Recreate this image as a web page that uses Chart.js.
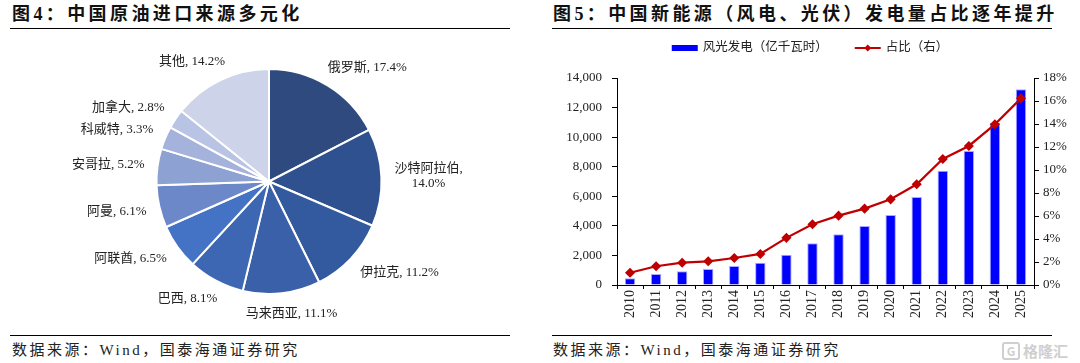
<!DOCTYPE html>
<html>
<head>
<meta charset="utf-8">
<script src="https://cdn.jsdelivr.net/npm/chart.js@4.4.1/dist/chart.umd.min.js"></script>
<style>
  html,body{margin:0;padding:0;background:#fff;}
  body{width:1080px;height:363px;position:relative;overflow:hidden;}
  .title{position:absolute;top:4px;font-family:"Liberation Serif","Noto Sans CJK SC";font-weight:700;font-size:18px;line-height:20px;letter-spacing:3.4px;color:#111;white-space:nowrap;}
  .rule{position:absolute;height:1.4px;background:#000;}
  .src{position:absolute;top:340px;font-family:"Liberation Serif","Noto Sans CJK SC";font-size:15px;line-height:20px;letter-spacing:2.5px;color:#222;white-space:nowrap;}
  .wm{position:absolute;left:1002px;top:342px;font-family:"Noto Sans CJK SC";font-weight:700;font-size:15px;line-height:18px;color:#cfcfcf;white-space:nowrap;}
  .wm span{display:inline-block;border:2px solid #cfcfcf;border-radius:3px;width:14px;height:14px;line-height:14px;font-size:12px;text-align:center;margin-right:3px;vertical-align:top;}
  canvas{position:absolute;display:block;}
</style>
</head>
<body>
<div class="title" style="left:12px">图4：中国原油进口来源多元化</div>
<div class="rule" style="left:10px;top:28px;width:500px"></div>
<div class="title" style="left:553px">图5：中国新能源（风电、光伏）发电量占比逐年提升</div>
<div class="rule" style="left:552px;top:28px;width:500px"></div>

<canvas id="pie" width="540" height="305" style="left:0;top:30px;width:540px;height:305px"></canvas>
<canvas id="bar" width="540" height="303" style="left:540px;top:30px;width:540px;height:303px"></canvas>

<div class="rule" style="left:10px;top:335px;width:500px"></div>
<div class="src" style="left:12px">数据来源：Wind，国泰海通证券研究</div>
<div class="rule" style="left:552px;top:335px;width:500px"></div>
<div class="src" style="left:553px">数据来源：Wind，国泰海通证券研究</div>
<div class="wm"><span>G</span>格隆汇</div>

<script>
// ---------- Data ----------
const pieLabels = ['俄罗斯','沙特阿拉伯','伊拉克','马来西亚','巴西','阿联酋','阿曼','安哥拉','科威特','加拿大','其他'];
const pieValues = [17.4, 14.0, 11.2, 11.1, 8.1, 6.5, 6.1, 5.2, 3.3, 2.8, 14.2];

const years = ['2010','2011','2012','2013','2014','2015','2016','2017','2018','2019','2020','2021','2022','2023','2024','2025'];
const windSolarGen = [450, 745, 930, 1080, 1285, 1510, 2050, 2820, 3430, 3990, 4735, 5950, 7730, 9060, 10960, 13240];
const sharePct = [1.07, 1.63, 1.94, 2.06, 2.35, 2.70, 4.10, 5.28, 6.03, 6.64, 7.45, 8.76, 10.96, 12.09, 13.97, 16.23];

const barSeriesName = '风光发电（亿千瓦时）';
const lineSeriesName = '占比（右）';
const leftTicks = [0, 2000, 4000, 6000, 8000, 10000, 12000, 14000];
const rightTicks = [0, 2, 4, 6, 8, 10, 12, 14, 16, 18];

// ---------- Styles ----------
const pieColors = ['#2E4A7F','#2F5190','#33599E','#3960A8','#3D67B2','#4472C4','#6D88C9','#8DA1D3','#A5B3DC','#B9C3E3','#CDD3E9'];
const FONT_FAM = "'Liberation Serif', 'Noto Sans CJK SC'";
const TEXT = '#222';

// ---------- Pie ----------
const pieLabelPlugin = {
  id: 'pieLabels',
  afterDatasetsDraw(chart) {
    const ctx = chart.ctx;
    const meta = chart.getDatasetMeta(0);
    ctx.save();
    ctx.font = '13px ' + FONT_FAM;
    ctx.fillStyle = TEXT;
    ctx.textAlign = 'center';
    ctx.textBaseline = 'middle';
    meta.data.forEach((arc, i) => {
      const p = arc.getProps(['x','y','startAngle','endAngle','outerRadius'], true);
      const mid = (p.startAngle + p.endAngle) / 2;
      const c = Math.cos(mid), s = Math.sin(mid);
      const txt = pieLabels[i] + ', ' + pieValues[i].toFixed(1) + '%';
      let lines = [txt];
      if (ctx.measureText(txt).width > 95) lines = [pieLabels[i] + ',', pieValues[i].toFixed(1) + '%'];
      const w = Math.max(...lines.map(l => ctx.measureText(l).width));
      const lh = 15;
      const h = lines.length * lh;
      const R = p.outerRadius + 13;
      const px = p.x + R * c, py = p.y + R * s;
      const fx = Math.max(-1, Math.min(1, c * 1.6));
      const cx = px + (w / 2) * fx;
      const cy = py + (h / 2) * s;
      lines.forEach((l, k) => {
        ctx.fillText(l, cx, cy - h / 2 + lh / 2 + k * lh);
      });
    });
    ctx.restore();
  }
};

new Chart(document.getElementById('pie'), {
  type: 'pie',
  data: {
    labels: pieLabels,
    datasets: [{
      data: pieValues,
      backgroundColor: pieColors,
      borderColor: '#ffffff',
      borderWidth: 2
    }]
  },
  options: {
    responsive: false,
    animation: false,
    devicePixelRatio: 1,
    layout: { padding: { left: 155, right: 157, top: 38, bottom: 40 } },
    plugins: { legend: { display: false }, tooltip: { enabled: false } }
  },
  plugins: [pieLabelPlugin]
});

// ---------- Bar + line ----------
const legendPlugin = {
  id: 'customLegend',
  afterDraw(chart) {
    const ctx = chart.ctx;
    ctx.save();
    ctx.font = '12.5px ' + FONT_FAM;
    const t1 = ctx.measureText(barSeriesName).width;
    const t2 = ctx.measureText(lineSeriesName).width;
    const sw = 26, gap = 5, itemGap = 27;
    const total = sw + gap + t1 + itemGap + sw + gap + t2;
    let x = chart.width / 2 - total / 2;
    const y = 18;
    ctx.fillStyle = '#0000FF';
    ctx.fillRect(x, y - 3, sw, 6);
    x += sw + gap;
    ctx.fillStyle = TEXT;
    ctx.textAlign = 'left';
    ctx.textBaseline = 'middle';
    ctx.fillText(barSeriesName, x, y);
    x += t1 + itemGap;
    ctx.strokeStyle = '#C00000';
    ctx.lineWidth = 2;
    ctx.beginPath();
    ctx.moveTo(x, y); ctx.lineTo(x + sw, y);
    ctx.stroke();
    ctx.fillStyle = '#C00000';
    const mx = x + sw / 2, r = 3.5;
    ctx.beginPath();
    ctx.moveTo(mx, y - r); ctx.lineTo(mx + r, y); ctx.lineTo(mx, y + r); ctx.lineTo(mx - r, y);
    ctx.closePath(); ctx.fill();
    x += sw + gap;
    ctx.fillStyle = TEXT;
    ctx.fillText(lineSeriesName, x, y);
    ctx.restore();
  }
};

new Chart(document.getElementById('bar'), {
  type: 'bar',
  data: {
    labels: years,
    datasets: [
      {
        type: 'line',
        label: lineSeriesName,
        data: sharePct,
        yAxisID: 'y1',
        borderColor: '#C00000',
        backgroundColor: '#C00000',
        borderWidth: 2.2,
        pointStyle: 'rectRot',
        pointRadius: 3.5,
        pointBackgroundColor: '#C00000',
        pointBorderColor: '#C00000',
        tension: 0,
        order: 0
      },
      {
        type: 'bar',
        label: barSeriesName,
        data: windSolarGen,
        yAxisID: 'y',
        backgroundColor: '#0000FF',
        borderColor: '#A8A8FF',
        borderWidth: 1,
        categoryPercentage: 1,
        barPercentage: 0.4,
        order: 1
      }
    ]
  },
  options: {
    responsive: false,
    animation: false,
    devicePixelRatio: 1,
    layout: { padding: { left: 0, right: 0, top: 48, bottom: 0 } },
    plugins: { legend: { display: false }, tooltip: { enabled: false } },
    scales: {
      x: {
        offset: true,
        grid: { offset: true, drawOnChartArea: false, tickLength: 4, color: '#000', tickColor: '#000' },
        border: { color: '#000', width: 1 },
        ticks: {
          color: TEXT,
          font: { family: FONT_FAM, size: 14 },
          minRotation: 90, maxRotation: 90,
          padding: 1,
          autoSkip: false
        },
        afterFit(scale) { scale.height = 48; }
      },
      y: {
        position: 'left',
        min: 0, max: 14000,
        afterBuildTicks(scale) { scale.ticks = leftTicks.map(v => ({ value: v })); },
        grid: { drawOnChartArea: false, tickLength: 5, color: '#000', tickColor: '#000' },
        border: { color: '#000', width: 1 },
        ticks: {
          color: TEXT,
          font: { family: FONT_FAM, size: 13 },
          padding: 10,
          callback: v => Number(v).toLocaleString('en-US')
        },
        afterFit(scale) { scale.width = 77; }
      },
      y1: {
        position: 'right',
        min: 0, max: 18,
        afterBuildTicks(scale) { scale.ticks = rightTicks.map(v => ({ value: v })); },
        grid: { drawOnChartArea: false, tickLength: 5, color: '#000', tickColor: '#000' },
        border: { color: '#000', width: 1 },
        ticks: {
          color: TEXT,
          font: { family: FONT_FAM, size: 13 },
          padding: 4,
          callback: v => v + '%'
        },
        afterFit(scale) { scale.width = 46; }
      }
    }
  },
  plugins: [legendPlugin]
});
</script>
</body>
</html>
